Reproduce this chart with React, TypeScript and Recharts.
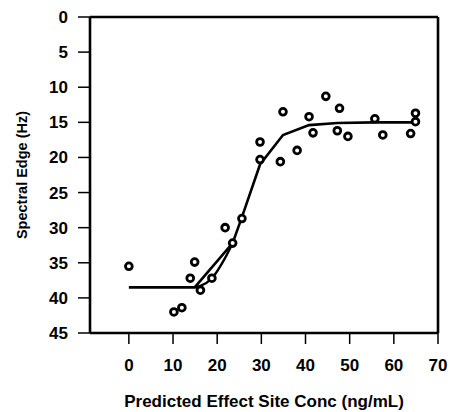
import React from "react"
import {
  ComposedChart,
  Scatter,
  Line,
  XAxis,
  YAxis,
  ReferenceLine,
  Label,
} from "recharts"

// observed points
const obsX = [0, 10.2, 12.0, 13.9, 14.9, 16.2, 18.8, 21.8, 23.5, 25.6, 29.7, 29.7, 34.9, 34.3, 38.1, 40.8, 41.7, 44.6, 47.7, 47.2, 49.6, 55.7, 57.5, 63.8, 64.9, 64.9]
const obsY = [35.5, 42.0, 41.4, 37.2, 34.9, 38.9, 37.2, 30.0, 32.2, 28.7, 17.8, 20.3, 13.5, 20.6, 19.0, 14.2, 16.5, 11.3, 13.0, 16.2, 17.0, 14.5, 16.8, 16.6, 13.7, 14.9]

// fitted curve
const fitX = [0, 14.9, 23.5, 25.6, 29.7, 34.9, 40.8, 47.2, 55.7, 64.9]
const fitY = [38.5, 38.5, 32.2, 28.5, 21.0, 16.8, 15.4, 15.1, 15.0, 15.0]
// second branch of the curve near the bottom
const loopX = [14.9, 16.2, 18.8, 21.8, 23.5]
const loopY = [38.5, 38.3, 37.2, 34.3, 32.2]

const xTicks = [0, 10, 20, 30, 40, 50, 60, 70]
const yTicks = [0, 5, 10, 15, 20, 25, 30, 35, 40, 45]

const points = obsX.map((x, i) => ({ x, y: obsY[i] }))
const fit = fitX.map((x, i) => ({ x, y: fitY[i] }))
const loop = loopX.map((x, i) => ({ x, y: loopY[i] }))

const FONT = "'Liberation Sans', Arial, sans-serif"
const tickStyle = { fontFamily: FONT, fontSize: 17, fontWeight: 700, fill: "#000" }

const OpenCircle = (props: any) => (
  <circle cx={props.cx} cy={props.cy} r={3.4} fill="#fff" stroke="#000" strokeWidth={2.8} />
)

export default function App() {
  return (
    <div style={{ position: "absolute", left: 0, top: 0, background: "#fff" }}>
      <ComposedChart
        width={452}
        height={412}
        margin={{ top: 17, right: 14, bottom: 0, left: 0 }}
      >
        <XAxis
          dataKey="x"
          type="number"
          domain={[-8.8, 70]}
          ticks={xTicks}
          allowDataOverflow
          height={79}
          tickSize={11}
          tickMargin={15}
          tick={tickStyle}
          axisLine={{ stroke: "#000", strokeWidth: 2.6 }}
          tickLine={{ stroke: "#000", strokeWidth: 1.5 }}
        >
          <Label
            content={(p: any) => {
              const vb = p.viewBox
              return (
                <text
                  x={vb.x + vb.width / 2}
                  y={vb.y + 74}
                  textAnchor="middle"
                  style={{ fontFamily: FONT, fontSize: 17, fontWeight: 700 }}
                  fill="#000"
                >
                  Predicted Effect Site Conc (ng/mL)
                </text>
              )
            }}
          />
        </XAxis>
        <YAxis
          dataKey="y"
          type="number"
          domain={[0, 45]}
          ticks={yTicks}
          reversed
          width={90}
          tickSize={12}
          tickMargin={10}
          tick={tickStyle}
          axisLine={{ stroke: "#000", strokeWidth: 2.6 }}
          tickLine={{ stroke: "#000", strokeWidth: 1.5 }}
        >
          <Label
            content={(p: any) => {
              const vb = p.viewBox
              const cx = vb.x + 22
              const cy = vb.y + vb.height / 2
              return (
                <text
                  x={cx}
                  y={cy}
                  transform={`rotate(-90 ${cx} ${cy})`}
                  textAnchor="middle"
                  dominantBaseline="central"
                  style={{ fontFamily: FONT, fontSize: 14.5, fontWeight: 700 }}
                  fill="#000"
                >
                  Spectral Edge (Hz)
                </text>
              )
            }}
          />
        </YAxis>
        <ReferenceLine y={0} stroke="#000" strokeWidth={2.6} />
        <ReferenceLine x={70} stroke="#000" strokeWidth={2.6} />
        <Line
          data={fit}
          dataKey="y"
          type="linear"
          stroke="#000"
          strokeWidth={2.6}
          dot={false}
          isAnimationActive={false}
        />
        <Line
          data={loop}
          dataKey="y"
          type="monotone"
          stroke="#000"
          strokeWidth={2.4}
          dot={false}
          isAnimationActive={false}
        />
        <Scatter data={points} dataKey="y" shape={OpenCircle} isAnimationActive={false} />
      </ComposedChart>
    </div>
  )
}
